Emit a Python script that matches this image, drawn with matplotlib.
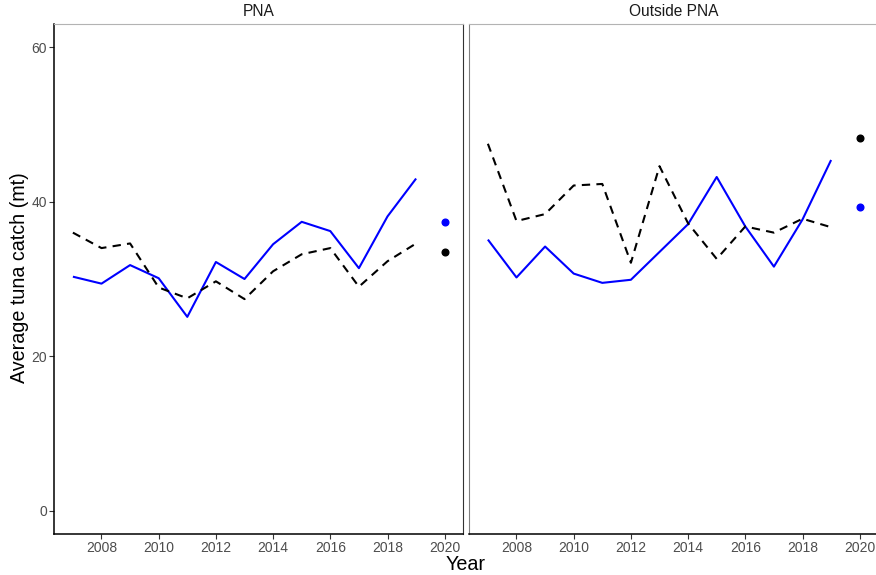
import matplotlib
matplotlib.use("Agg")
import matplotlib.pyplot as plt

plt.rcParams['font.family'] = ['Liberation Sans', 'DejaVu Sans']

# Data
years = list(range(2007, 2020))
panels = ["PNA", "Outside PNA"]

pna_solid = [30.3, 29.4, 31.8, 30.1, 25.1, 32.2, 30.0, 34.5, 37.4, 36.2, 31.4, 38.1, 43.0]
pna_dashed = [36.0, 34.0, 34.6, 28.9, 27.5, 29.7, 27.4, 31.0, 33.2, 34.0, 29.0, 32.3, 34.6]
pna_2020_blue = 37.4
pna_2020_black = 33.5

out_solid = [35.1, 30.2, 34.2, 30.7, 29.5, 29.9, 33.5, 37.1, 43.2, 36.8, 31.6, 37.7, 45.4]
out_dashed = [47.5, 37.5, 38.4, 42.1, 42.3, 32.1, 44.6, 37.2, 32.6, 36.8, 36.0, 37.8, 36.7]
out_2020_blue = 39.3
out_2020_black = 48.3

solid_series = [pna_solid, out_solid]
dashed_series = [pna_dashed, out_dashed]
blue_points = [pna_2020_blue, out_2020_blue]
black_points = [pna_2020_black, out_2020_black]

W, H = 876, 575
fig = plt.figure(figsize=(W / 100, H / 100), dpi=100)

def px_axes(x0, y0, x1, y1):
    return fig.add_axes([x0 / W, 1 - y1 / H, (x1 - x0) / W, (y1 - y0) / H])

ax_left = px_axes(54.3, 24, 463.3, 534)
ax_right = px_axes(469.3, 24, 878.3, 534)

for i, ax in enumerate([ax_left, ax_right]):
    ax.plot(years, solid_series[i], color="#0000ff", lw=1.5, solid_capstyle="butt")
    ax.plot(years, dashed_series[i], color="black", lw=1.5, linestyle=(0, (4, 3)))
    ax.plot([2020], [blue_points[i]], "o", color="#0000ff", ms=4.8)
    ax.plot([2020], [black_points[i]], "o", color="black", ms=4.8)
    ax.set_xlim(2006.35, 2020.65)
    ax.set_ylim(-3, 63)
    ax.set_xticks(range(2008, 2021, 2))
    ax.set_yticks([0, 20, 40, 60])
    ax.tick_params(axis="both", length=3.3, width=0.8, color="#333333",
                   labelcolor="#4d4d4d", labelsize=10, pad=2)
    ax.set_title(panels[i], fontsize=11.2, color="#1a1a1a", pad=6)
    ax.spines["top"].set_color("#b3b3b3")
    ax.spines["bottom"].set_color("black")
    ax.spines["bottom"].set_linewidth(1.1)

ax_left.spines["left"].set_color("black")
ax_left.spines["left"].set_linewidth(1.1)
ax_left.spines["right"].set_color("#333333")
ax_right.spines["left"].set_color("#808080")
ax_right.spines["right"].set_visible(False)
ax_right.tick_params(axis="y", left=False, labelleft=False)

fig.text(20 / W, 1 - 278 / H, "Average tuna catch (mt)", fontsize=14.2,
         rotation=90, ha="center", va="center")
fig.text(466 / W, 1 - 565 / H, "Year", fontsize=14.2, ha="center", va="center")

fig.savefig("out.png", dpi=100)
